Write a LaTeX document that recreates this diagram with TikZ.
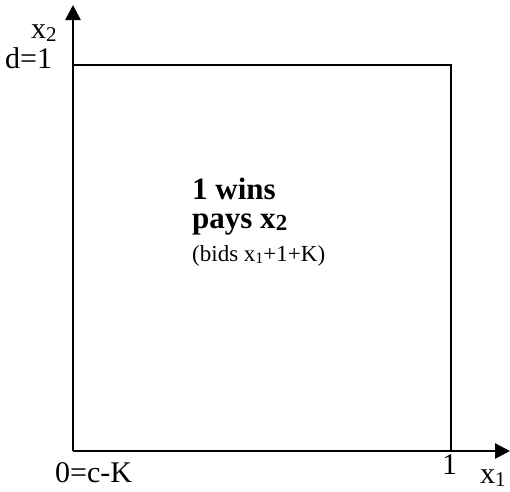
\documentclass[tikz,border=0pt]{standalone}
\usepackage{fontspec}
\setmainfont{Liberation Serif}
\usetikzlibrary{arrows.meta}
\newcommand\lsub[1]{\raisebox{-3pt}{\fontsize{21}{25}\selectfont #1}}
\begin{document}
\begin{tikzpicture}[x=1pt,y=-1pt,
  axisline/.style={line width=2.6pt,-{Triangle[length=15pt,width=15pt]}},
  boxline/.style={line width=1.8pt},
  lbl/.style={inner sep=0pt,anchor=base west,font=\fontsize{30}{36}\selectfont},
  bigtxt/.style={inner sep=0pt,anchor=base west,font=\fontsize{31}{37}\selectfont\bfseries},
  smalltxt/.style={inner sep=0pt,anchor=base west,font=\fontsize{23}{28}\selectfont}]
\path[use as bounding box] (0,0) rectangle (510,491);
\coordinate (O) at (73,451);
\coordinate (ytip) at (73,5);
\coordinate (xtip) at (510,451);
\coordinate (tl) at (73,65);
\coordinate (tr) at (451,65);
\coordinate (br) at (451,451);
\draw[boxline] (tl) -- (tr) -- (br);
\draw[axisline] (O) -- (ytip);
\draw[axisline] (O) -- (xtip);
\node[lbl] (x2) at (31,38) {x\lsub{2}};
\node[lbl] (d1) at (5,68) {d=1};
\node[lbl] (zero) at (55,482) {0=c-K};
\node[lbl] (one) at (442,474) {1};
\node[lbl] (x1) at (480,483) {x\lsub{1}};
\node[bigtxt] (wins) at (192,199) {1 wins};
\node[bigtxt] (pays) at (192,228) {pays x\raisebox{-2pt}{\fontsize{23}{28}\selectfont\bfseries 2}};
\node[smalltxt] (bids) at (192,261) {(bids x\raisebox{-2pt}{\fontsize{16}{19}\selectfont 1}+1+K)};
\end{tikzpicture}
\end{document}
